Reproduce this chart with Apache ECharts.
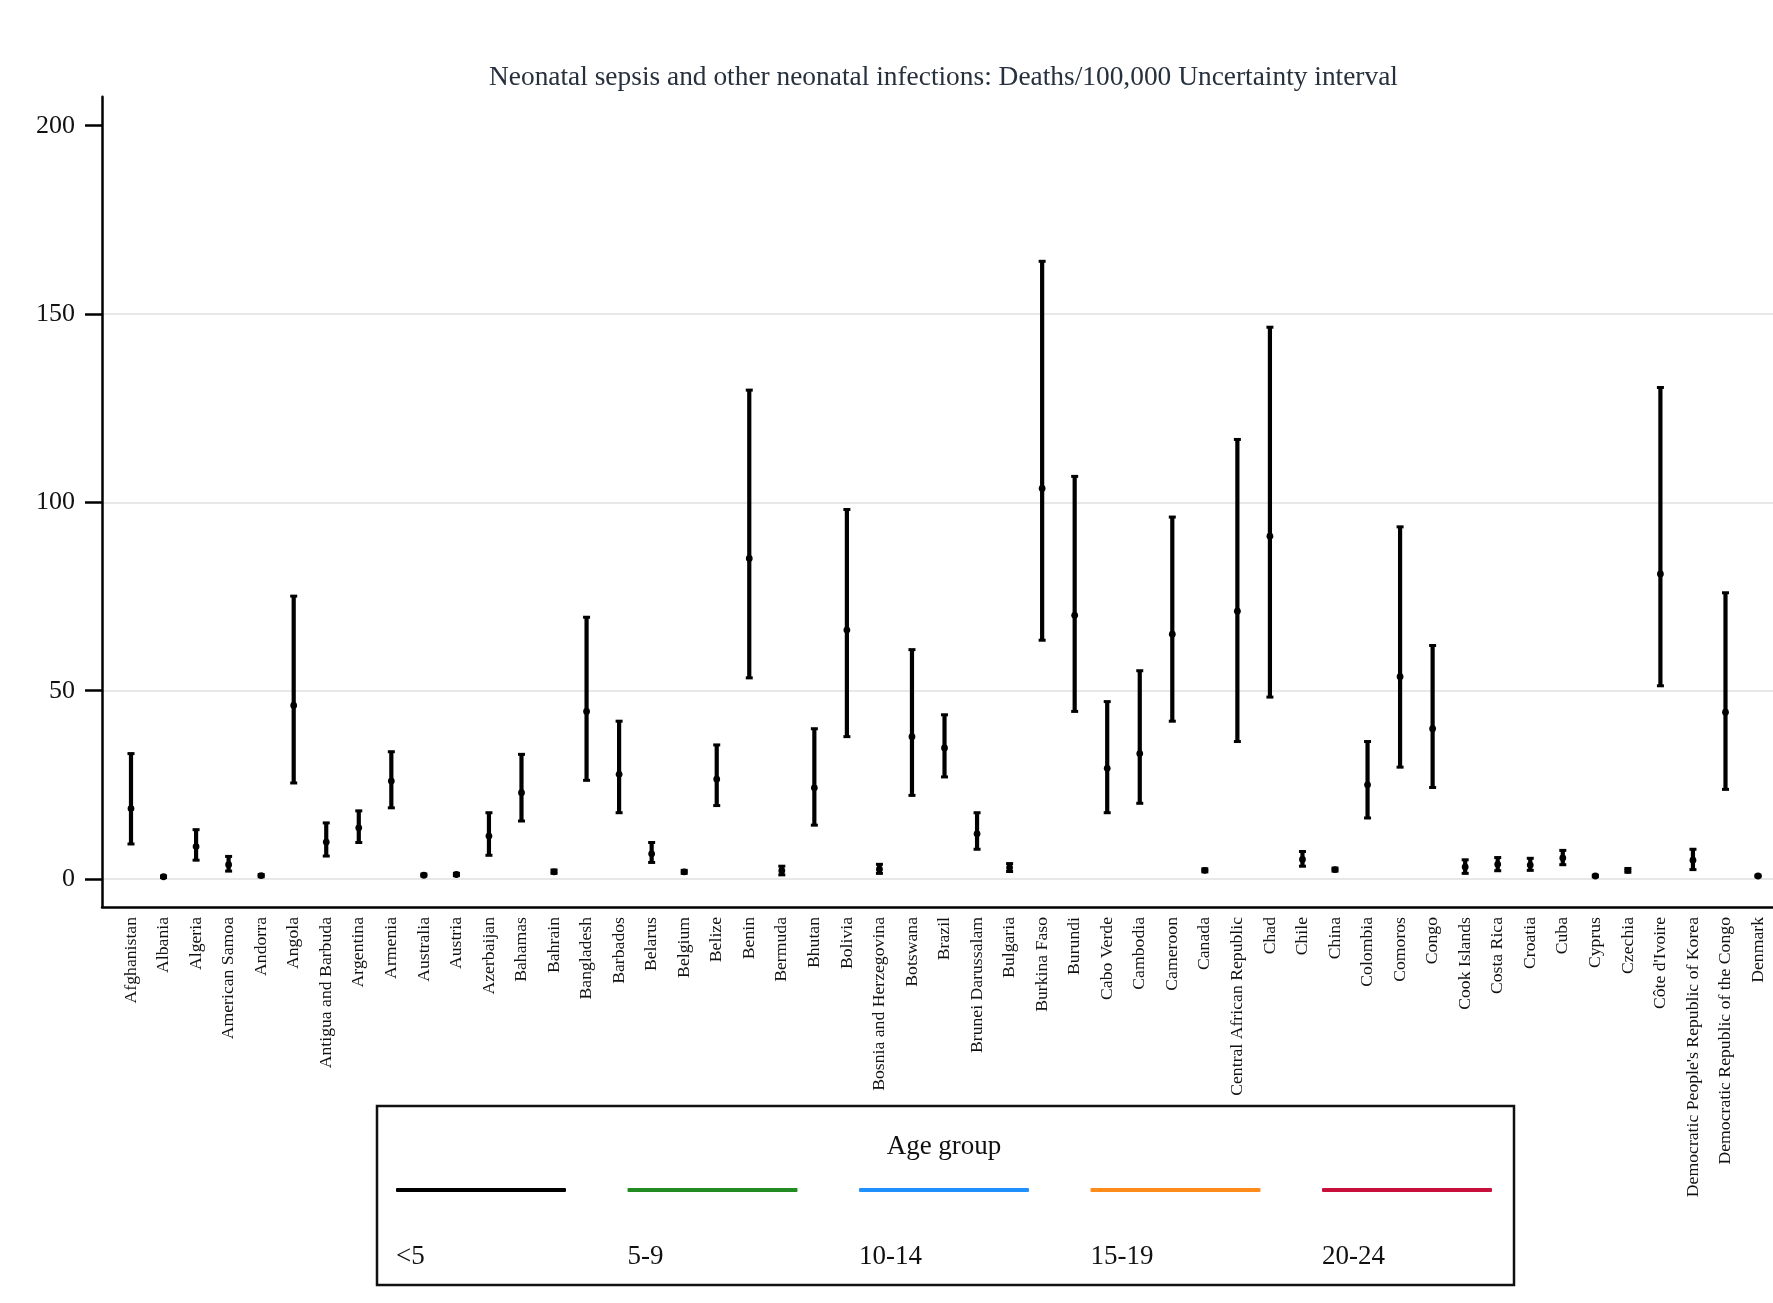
<!DOCTYPE html>
<html>
<head>
<meta charset="utf-8">
<script src="https://cdn.jsdelivr.net/npm/echarts@6/dist/echarts.min.js"></script>
<style>
  html, body { margin: 0; padding: 0; background: #ffffff; }
  #chart { width: 1773px; height: 1303px; }
</style>
</head>
<body>
<div id="chart"></div>
<script>
// ---------------- data ----------------
const categories = [
  'Afghanistan', 'Albania', 'Algeria', 'American Samoa', 'Andorra', 'Angola',
  'Antigua and Barbuda', 'Argentina', 'Armenia', 'Australia', 'Austria', 'Azerbaijan',
  'Bahamas', 'Bahrain', 'Bangladesh', 'Barbados', 'Belarus', 'Belgium', 'Belize', 'Benin',
  'Bermuda', 'Bhutan', 'Bolivia', 'Bosnia and Herzegovina', 'Botswana', 'Brazil',
  'Brunei Darussalam', 'Bulgaria', 'Burkina Faso', 'Burundi', 'Cabo Verde', 'Cambodia',
  'Cameroon', 'Canada', 'Central African Republic', 'Chad', 'Chile', 'China', 'Colombia',
  'Comoros', 'Congo', 'Cook Islands', 'Costa Rica', 'Croatia', 'Cuba', 'Cyprus', 'Czechia',
  "Côte d'Ivoire", "Democratic People's Republic of Korea", 'Democratic Republic of the Congo',
  'Denmark'
];
const meanValues = [
  18.7, 0.6, 8.6, 3.8, 0.9, 46.1, 9.8, 13.6, 26.0, 1.0, 1.2, 11.4,
  22.9, 1.9, 44.5, 27.8, 6.7, 1.9, 26.5, 85.1,
  2.2, 24.2, 66.1, 2.6, 37.8, 34.8,
  12.0, 3.0, 103.7, 70.0, 29.4, 33.3,
  65.0, 2.3, 71.1, 91.0, 5.2, 2.5, 25.0,
  53.7, 39.9, 3.2, 3.9, 3.7, 5.6, 0.8, 2.3,
  81.0, 5.0, 44.3,
  0.8
];
const lowerValues = [
  9.3, 0.4, 5.0, 2.1, 0.6, 25.5, 6.1, 9.7, 18.9, 0.8, 0.9, 6.3,
  15.4, 1.5, 26.2, 17.6, 4.4, 1.5, 19.5, 53.4,
  1.1, 14.3, 37.8, 1.5, 22.2, 27.1,
  7.9, 2.0, 63.4, 44.5, 17.6, 20.1,
  41.9, 1.9, 36.5, 48.3, 3.4, 2.1, 16.2,
  29.7, 24.3, 1.5, 2.2, 2.3, 3.8, 0.6, 1.8,
  51.3, 2.5, 23.8,
  0.6
];
const upperValues = [
  33.3, 0.8, 13.1, 6.0, 1.2, 75.1, 14.9, 18.1, 33.8, 1.3, 1.5, 17.6,
  33.1, 2.4, 69.5, 41.9, 9.7, 2.3, 35.6, 129.8,
  3.4, 39.9, 98.1, 3.9, 60.9, 43.6,
  17.6, 4.1, 164.0, 106.9, 47.1, 55.3,
  96.1, 2.7, 116.7, 146.5, 7.3, 2.9, 36.5,
  93.5, 62.0, 5.1, 5.7, 5.5, 7.6, 1.0, 2.8,
  130.5, 7.9, 76.0,
  1.0
];
const ageGroups = ['<5', '5-9', '10-14', '15-19', '20-24'];
const yTickValues = [0, 50, 100, 150, 200];
const titleText = 'Neonatal sepsis and other neonatal infections: Deaths/100,000 Uncertainty interval';
const legendTitle = 'Age group';

// ---------------- styles / layout ----------------
const groupColors = ['#000000', '#228B22', '#1E90FF', '#FF8C1A', '#C8103C'];
const FONT = '"Liberation Serif", "Times New Roman", serif';
const legendX0 = 396;
const legendStep = 231.5;

const chart = echarts.init(document.getElementById('chart'), null, { renderer: 'canvas' });

function renderRange(params, api) {
  const x = api.value(0);
  const lo = api.coord([x, api.value(1)]);
  const mid = api.coord([x, api.value(2)]);
  const hi = api.coord([x, api.value(3)]);
  const color = api.visual('color');
  const cap = 3.5;
  return {
    type: 'group',
    children: [
      { type: 'line', shape: { x1: lo[0], y1: lo[1], x2: hi[0], y2: hi[1] },
        style: { stroke: color, lineWidth: 4.2 } },
      { type: 'line', shape: { x1: lo[0] - cap, y1: lo[1], x2: lo[0] + cap, y2: lo[1] },
        style: { stroke: color, lineWidth: 3 } },
      { type: 'line', shape: { x1: hi[0] - cap, y1: hi[1], x2: hi[0] + cap, y2: hi[1] },
        style: { stroke: color, lineWidth: 3 } },
      { type: 'circle', shape: { cx: mid[0], cy: mid[1], r: 3.4 },
        style: { fill: color } }
    ]
  };
}

const series = ageGroups.map((g, gi) => ({
  name: g,
  type: 'custom',
  renderItem: renderRange,
  itemStyle: { color: groupColors[gi] },
  encode: { x: 0, y: [1, 2, 3] },
  data: gi === 0
    ? categories.map((c, i) => [i, lowerValues[i], meanValues[i], upperValues[i]])
    : [],
  z: 3
}));

const legends = [];
ageGroups.forEach((g, i) => {
  const x = legendX0 + i * legendStep;
  legends.push({
    data: [g], left: x, top: 1188, padding: 0, itemGap: 0,
    itemWidth: 170, itemHeight: 4, icon: 'roundRect',
    selectedMode: false, formatter: () => '',
    textStyle: { fontSize: 1, lineHeight: 4 }
  });
  legends.push({
    data: [g], left: x - 5, top: 1243, padding: 0, itemGap: 0,
    itemWidth: 0, itemHeight: 0, icon: 'rect',
    selectedMode: false,
    textStyle: { fontFamily: FONT, fontSize: 27, color: '#111' }
  });
});

const option = {
  animation: false,
  backgroundColor: '#ffffff',
  title: {
    text: titleText,
    left: 489, top: 64.5, padding: 0,
    textStyle: { fontFamily: FONT, fontSize: 27.4, fontWeight: 'normal', color: '#27303d' }
  },
  grid: { left: 102, right: 0, top: 96.7, bottom: 396, containLabel: false },
  xAxis: {
    type: 'value',
    min: -0.891, max: 50.46,
    axisLine: { show: true, onZero: false, lineStyle: { color: '#000', width: 2.5 } },
    axisTick: { show: false },
    splitLine: { show: false },
    axisLabel: {
      customValues: categories.map((c, i) => i),
      formatter: (v) => categories[Math.round(v)] || '',
      rotate: 90, margin: 10,
      fontFamily: FONT, fontSize: 17.7, color: '#111'
    }
  },
  yAxis: {
    type: 'value',
    min: -7.43, max: 207.7,
    axisLine: { show: true, onZero: false, lineStyle: { color: '#000', width: 2.5 } },
    axisTick: { show: true, length: 17, customValues: yTickValues, lineStyle: { color: '#000', width: 2.5 } },
    axisLabel: { customValues: yTickValues, margin: 27, fontFamily: FONT, fontSize: 26, color: '#111' },
    splitLine: { show: true, lineStyle: { color: ['#e8e8e8', '#e8e8e8', '#e8e8e8', '#e8e8e8', 'rgba(0,0,0,0)'], width: 2 } }
  },
  legend: legends,
  graphic: [
    { type: 'rect', shape: { x: 377, y: 1106, width: 1137, height: 179 },
      style: { fill: 'rgba(0,0,0,0)', stroke: '#111', lineWidth: 2.5 }, z: 10 },
    { type: 'text', x: 944, y: 1147, z: 10,
      style: { text: legendTitle, fontFamily: FONT, fontSize: 27, fill: '#111',
               textAlign: 'center', textVerticalAlign: 'middle' } }
  ],
  series: series
};

chart.setOption(option);
</script>
</body>
</html>
